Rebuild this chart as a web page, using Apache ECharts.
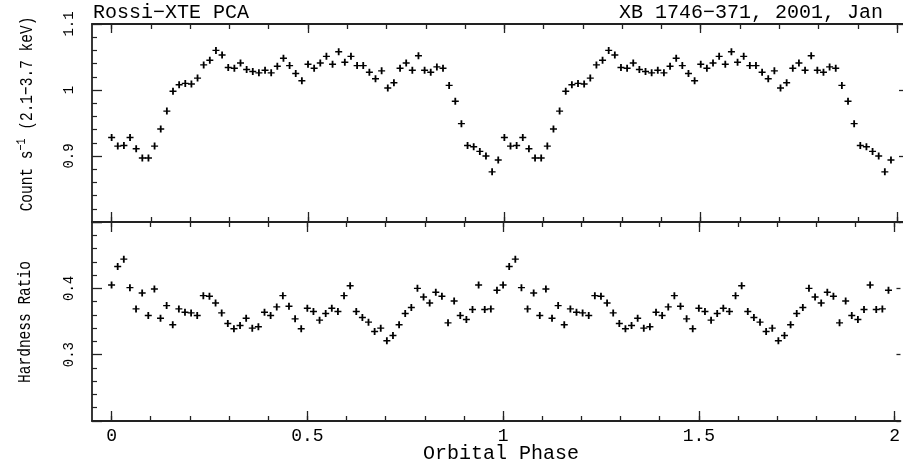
<!DOCTYPE html>
<html>
<head>
<meta charset="utf-8">
<script src="https://cdn.jsdelivr.net/npm/echarts@6/dist/echarts.min.js"></script>
<style>
html,body{margin:0;padding:0;background:#fff;}
#chart{width:903px;height:464px;}
</style>
</head>
<body>
<div id="chart"></div>
<script>
// ---- data (64 phase bins per orbit, plotted over two cycles) ----
const phaseBins = 64;
const cycles = [0, 1];
const countRate = [
  0.928, 0.915, 0.916, 0.928, 0.911, 0.897, 0.897, 0.915,
  0.941, 0.968, 0.998, 1.008, 1.010, 1.009, 1.018, 1.038,
  1.045, 1.060, 1.053, 1.034, 1.033, 1.041, 1.031, 1.028,
  1.026, 1.030, 1.026, 1.036, 1.048, 1.037, 1.025, 1.014,
  1.039, 1.033, 1.041, 1.051, 1.039, 1.058, 1.042, 1.051,
  1.037, 1.037, 1.027, 1.017, 1.029, 1.003, 1.011, 1.033,
  1.041, 1.030, 1.052, 1.030, 1.027, 1.035, 1.033, 1.007,
  0.983, 0.949, 0.916, 0.914, 0.907, 0.900, 0.876, 0.894
];
const hardness = [
  0.405, 0.433, 0.444, 0.401, 0.369, 0.393, 0.359, 0.399,
  0.355, 0.374, 0.345, 0.369, 0.364, 0.363, 0.359, 0.389,
  0.388, 0.378, 0.363, 0.347, 0.339, 0.344, 0.355, 0.340,
  0.342, 0.364, 0.359, 0.372, 0.389, 0.373, 0.354, 0.339,
  0.370, 0.365, 0.352, 0.362, 0.370, 0.365, 0.389, 0.404,
  0.365, 0.356, 0.349, 0.335, 0.340, 0.321, 0.329, 0.345,
  0.362, 0.371, 0.400, 0.387, 0.378, 0.394, 0.388, 0.348,
  0.381, 0.359, 0.353, 0.368, 0.405, 0.368, 0.369, 0.397
];
const xMajorTicks = [0, 0.5, 1, 1.5, 2];
const xMinorTicks = [0, 0.1, 0.2, 0.3, 0.4, 0.5, 0.6, 0.7, 0.8, 0.9, 1,
                     1.1, 1.2, 1.3, 1.4, 1.5, 1.6, 1.7, 1.8, 1.9, 2];
const xRange = [-0.05, 2.015];
const countRange = [0.8, 1.1];
const hardRange = [0.2, 0.5];
const titleLeft = 'Rossi\u2212XTE PCA';
const titleRight = 'XB 1746\u2212371, 2001, Jan';
const xName = 'Orbital Phase';
const hardName = 'Hardness Ratio';

function foldData(values) {
  const out = [];
  cycles.forEach(c => values.forEach((v, i) => out.push([c + i / phaseBins, v])));
  return out;
}

const INK = '#222';
const TXT = '#000';
const MONO = '"Liberation Mono", "DejaVu Sans Mono", monospace';
const plusPath = 'path://M26,0H44V28H70V42H44V70H26V42H0V28H26Z';

function xAxisDef(grid, pos, ticks, len, showLine, showLabel) {
  return {
    type: 'value', gridIndex: grid, position: pos,
    min: xRange[0], max: xRange[1],
    axisLine: {show: showLine, onZero: false, lineStyle: {color: INK, width: 1.8}},
    axisTick: {show: true, inside: true, length: len, customValues: ticks,
               lineStyle: {color: INK, width: 1.3}},
    axisLabel: {show: showLabel, customValues: ticks, margin: 6,
                fontFamily: MONO, fontSize: 18, color: TXT},
    splitLine: {show: false}
  };
}
function yAxisDef(grid, pos, range, showLine, showLabel, showMax) {
  return {
    type: 'value', gridIndex: grid, position: pos,
    min: range[0], max: range[1], interval: 0.1,
    axisLine: {show: showLine, onZero: false, lineStyle: {color: INK, width: 1.8}},
    axisTick: {show: true, inside: true, length: pos === 'left' ? 10 : 4,
               lineStyle: {color: INK, width: 1.3}},
    minorTick: {show: pos === 'left', splitNumber: 5, length: 5,
                lineStyle: {color: INK, width: 1.2}},
    axisLabel: {show: showLabel, rotate: 90, margin: 16, showMinLabel: false,
                showMaxLabel: showMax, fontFamily: MONO, fontSize: 14, color: TXT},
    splitLine: {show: false}
  };
}

const chart = echarts.init(document.getElementById('chart'), null, {renderer: 'canvas'});
chart.setOption({
  animation: false,
  backgroundColor: '#fff',
  grid: [
    {left: 92, right: 0, top: 24, height: 198},
    {left: 92, right: 0, top: 222, height: 199}
  ],
  xAxis: [
    xAxisDef(0, 'bottom', xMajorTicks, 10, true, false),
    xAxisDef(0, 'bottom', xMinorTicks, 5, false, false),
    xAxisDef(0, 'top', xMajorTicks, 9, true, false),
    xAxisDef(0, 'top', xMinorTicks, 5, false, false),
    xAxisDef(1, 'bottom', xMajorTicks, 10, true, true),
    xAxisDef(1, 'bottom', xMinorTicks, 5, false, false),
    xAxisDef(1, 'top', xMajorTicks, 10, true, false),
    xAxisDef(1, 'top', xMinorTicks, 5, false, false)
  ],
  yAxis: [
    yAxisDef(0, 'left', countRange, true, true, true),
    yAxisDef(0, 'right', countRange, false, false, false),
    yAxisDef(1, 'left', hardRange, true, true, false),
    yAxisDef(1, 'right', hardRange, false, false, false)
  ],
  series: [
    {type: 'scatter', xAxisIndex: 0, yAxisIndex: 0, data: foldData(countRate),
     symbol: plusPath, symbolSize: [7, 7], itemStyle: {color: '#000', opacity: 1}},
    {type: 'scatter', xAxisIndex: 4, yAxisIndex: 2, data: foldData(hardness),
     symbol: plusPath, symbolSize: [7, 7], itemStyle: {color: '#000', opacity: 1}}
  ],
  graphic: [
    {type: 'text', x: 93, y: 13, style: {text: titleLeft, font: '20px ' + MONO,
      fill: TXT, textAlign: 'left', textVerticalAlign: 'middle'}},
    {type: 'text', x: 883, y: 13, style: {text: titleRight, font: '20px ' + MONO,
      fill: TXT, textAlign: 'right', textVerticalAlign: 'middle'}},
    {type: 'text', x: 501, y: 454, style: {text: xName, font: '20px ' + MONO,
      fill: TXT, textAlign: 'center', textVerticalAlign: 'middle'}},
    {type: 'text', x: 27, y: 114, rotation: Math.PI / 2, scaleY: 1.3,
      style: {text: 'Count s{sup|\u22121} (2.1\u22123.7 keV)', font: '14.5px ' + MONO,
        fill: TXT, textAlign: 'center', textVerticalAlign: 'middle',
        rich: {sup: {fontSize: 10, fontFamily: MONO, verticalAlign: 'bottom', padding: [0, 0, 9, 0], fill: TXT}}}},
    {type: 'text', x: 25, y: 322, rotation: Math.PI / 2, scaleY: 1.3,
      style: {text: hardName, font: '14.5px ' + MONO, fill: TXT,
        textAlign: 'center', textVerticalAlign: 'middle'}}
  ]
});
</script>
</body>
</html>
